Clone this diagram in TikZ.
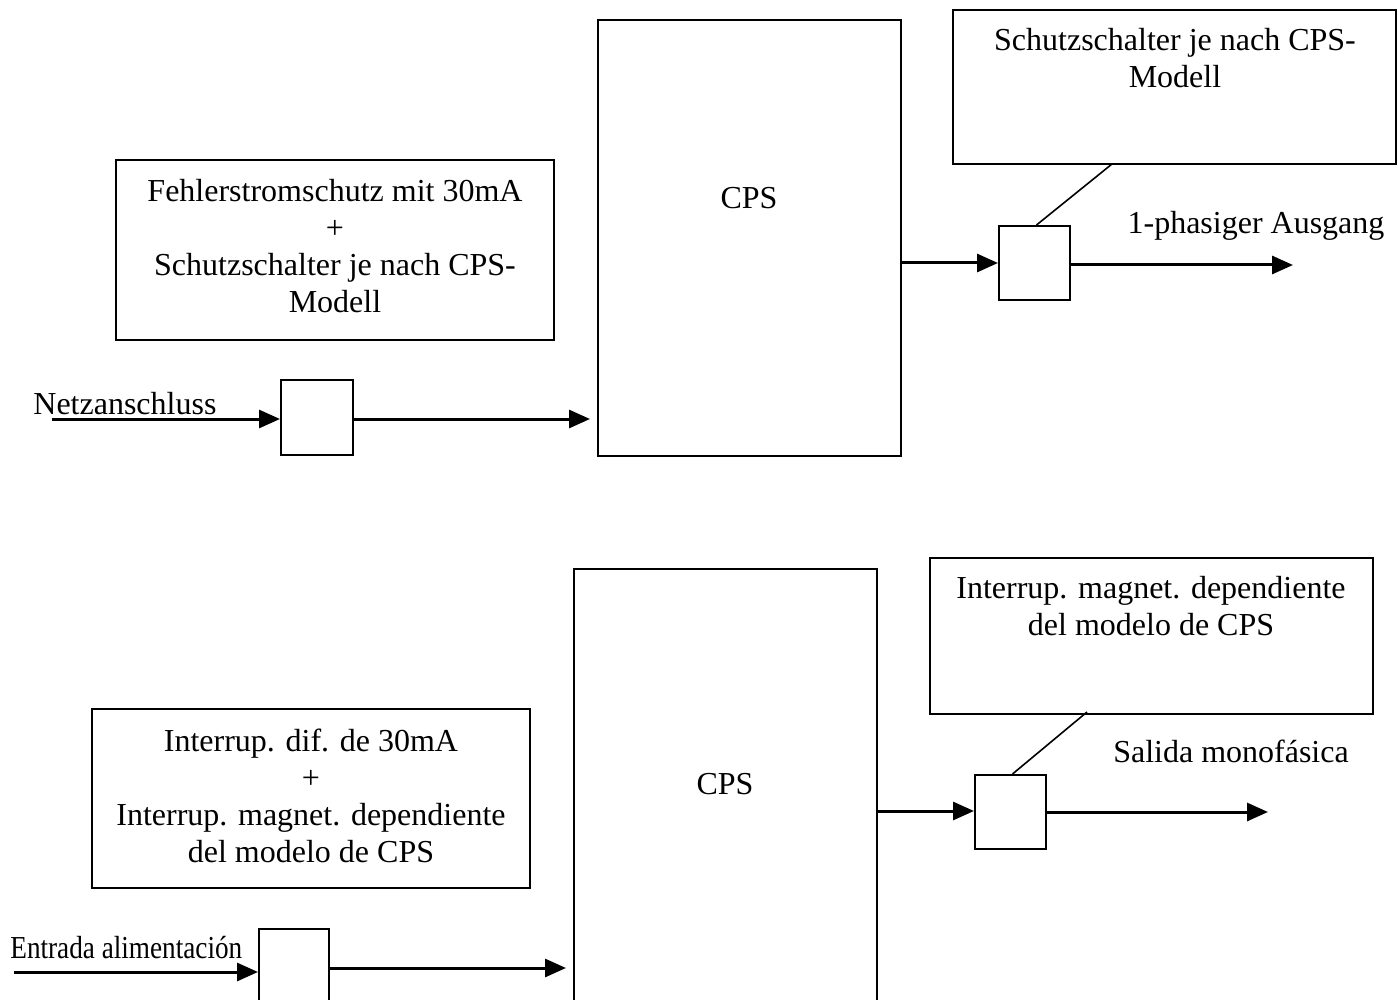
\documentclass[tikz,border=0pt]{standalone}
\usepackage{fontspec}
\setmainfont{Liberation Serif}
\usetikzlibrary{arrows.meta}
\begin{document}
\begin{tikzpicture}[x=0.5pt,y=-0.5pt,
  lbl/.style={font=\fontsize{16pt}{18.5pt}\selectfont,align=center,inner sep=0pt},
  conn/.style={line width=1.5pt,-{Triangle[length=10.5pt,width=9pt]}},
  thin/.style={line width=0.8pt}]
\useasboundingbox (0,0) rectangle (1398,1000);
\clip (0,0) rectangle (1398,1000);
% ---------- top diagram ----------
\node[draw,line width=1pt,minimum width=219pt,minimum height=90pt] (f1) at (335,250) {};
\node[lbl] (f1t) at (335,246) {Fehlerstromschutz mit 30mA\\+\\Schutzschalter je nach CPS-\\Modell};
\node[draw,line width=1pt,minimum width=36pt,minimum height=37.5pt] (in1) at (317,417.5) {};
\node[draw,line width=1pt,minimum width=151.5pt,minimum height=218pt] (cps1) at (749.5,238) {};
\node[lbl] (cps1t) at (749,198) {CPS};
\node[draw,line width=1pt,minimum width=35.5pt,minimum height=37pt] (out1) at (1034.5,263) {};
\node[draw,line width=1pt,minimum width=221.5pt,minimum height=77pt] (s1) at (1174.5,87) {};
\node[lbl] (s1t) at (1175,58.5) {Schutzschalter je nach CPS-\\Modell};
\node[lbl,anchor=west] (netz) at (33,404) {Netzanschluss};
\node[lbl] (aus1) at (1256,226) {1-phasiger Ausgang};
\coordinate (a1) at (52,419);
\coordinate (o1) at (1293,265);
\coordinate (d1) at (1112,164);
\draw[conn] (a1) -- (in1.west |- a1);
\draw[conn] (in1.east |- a1) -- ([xshift=-3.5pt]cps1.west |- a1);
\draw[conn] (cps1.east |- 0,263) -- (out1.west |- 0,263);
\draw[conn] (out1.east |- o1) -- (o1);
\draw[thin] ([xshift=1pt]out1.north) -- (d1);
% ---------- bottom diagram ----------
\node[draw,line width=1pt,minimum width=219pt,minimum height=89.5pt] (f2) at (311,798.5) {};
\node[lbl] (f2t) at (311,796) {Interrup. dif. de 30mA\\+\\Interrup. magnet. dependiente\\del modelo de CPS};
\node[draw,line width=1pt,minimum width=35pt,minimum height=37.5pt] (in2) at (294,966.5) {};
\node[draw,line width=1pt,minimum width=151.5pt,minimum height=218pt] (cps2) at (725.5,787) {};
\node[lbl] (cps2t) at (725,784) {CPS};
\node[draw,line width=1pt,minimum width=35.5pt,minimum height=37pt] (out2) at (1010.5,812) {};
\node[draw,line width=1pt,minimum width=221.5pt,minimum height=78pt] (s2) at (1151.5,636) {};
\node[lbl] (s2t) at (1151,606.5) {Interrup. magnet. dependiente\\del modelo de CPS};
\node[lbl,anchor=west] (entr) at (10,948) {\scalebox{0.85}[1]{Entrada alimentación}};
\node[lbl] (aus2) at (1231,751) {Salida monofásica};
\coordinate (a2) at (14,972);
\coordinate (o2) at (1268,812);
\coordinate (d2) at (1087,712);
\draw[conn] (a2) -- (in2.west |- a2);
\draw[conn] (in2.east |- 0,968) -- ([xshift=-3.5pt]cps2.west |- 0,968);
\draw[conn] (cps2.east |- 0,811) -- (out2.west |- 0,811);
\draw[conn] (out2.east |- o2) -- (o2);
\draw[thin] ([xshift=1pt]out2.north) -- (d2);
\end{tikzpicture}
\end{document}
